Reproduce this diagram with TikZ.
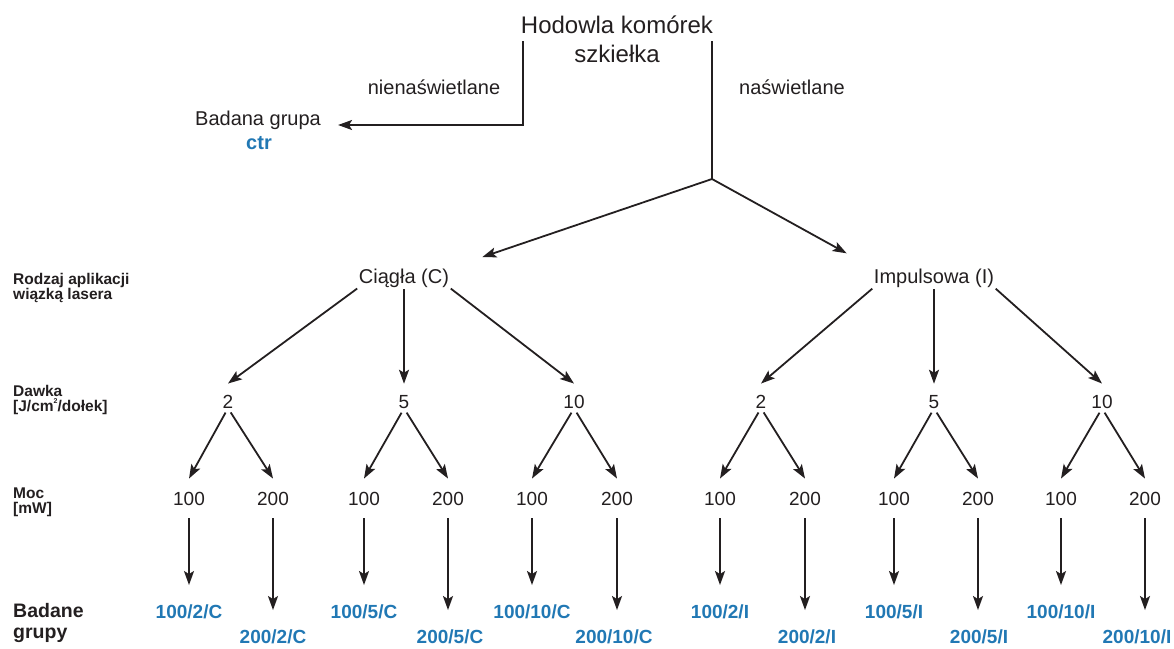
\documentclass[tikz,border=0pt]{standalone}
\usepackage{fontspec}
\setmainfont{Liberation Sans}
\usetikzlibrary{arrows.meta,calc}
\definecolor{txt}{RGB}{35,31,32}
\definecolor{grp}{RGB}{33,120,180}
\begin{document}
\begin{tikzpicture}[x=1pt,y=-1pt,
  lbl/.style={inner sep=0pt,anchor=base,text=txt},
  big/.style={lbl,font=\fontsize{24}{29}\selectfont},
  mid/.style={lbl,font=\fontsize{20}{24}\selectfont},
  num/.style={lbl,font=\fontsize{19}{23}\selectfont},
  side/.style={inner sep=0pt,anchor=base west,text=txt,font=\bfseries\fontsize{15.5}{18}\selectfont},
  sidebig/.style={inner sep=0pt,anchor=base west,text=txt,font=\bfseries\fontsize{19.5}{23}\selectfont},
  res/.style={inner sep=0pt,anchor=base,text=grp,font=\bfseries\fontsize{19}{23}\selectfont},
  conn/.style={draw=txt,line width=1.8pt},
  arr/.style={conn,-{Stealth[length=14pt,width=10pt,inset=3pt]}},
]
\useasboundingbox (0,0) rectangle (1174,648);

% top
\node[big] (hod1) at (617,33) {Hodowla komórek};
\node[big] (hod2) at (617,62) {szkiełka};
\node[mid] (nien) at (434,94) {nienaświetlane};
\node[mid] (nasw) at (792,94) {naświetlane};
\node[mid] (bg) at (258,125) {Badana grupa};
\node[res,font=\bfseries\fontsize{20}{24}\selectfont] (ctr) at (259,149) {ctr};

\coordinate (hodL) at (523,41);
\coordinate (hodR) at (712,41);
\coordinate (J) at (712,179);
\draw[arr] (hodL) |- ([xshift=17pt]bg.base east);
\draw[conn] (hodR) -- (J);

% application type
\node[mid] (cc) at (404,283) {Ciągła (C)};
\node[mid] (ii) at (934,283) {Impulsowa (I)};
\draw[arr,shorten >=35pt] (J) -- (cc.north east);
\draw[arr,shorten >=31pt] (J) -- (ii.north west);

% doses, powers, groups
\foreach \k/\d/\x/\a/\b/\bx/\t in {c2/2/228/189/273/273/C, c5/5/404/364/448/450/C, c10/10/574/532/617/614/C, i2/2/761/720/805/807/I, i5/5/934/894/978/979/I, i10/10/1102/1061/1145/1137/I}{
  \node[num] (d\k) at (\x,408) {\d};
  \node[num] (pa\k) at (\a,505) {100};
  \node[num] (pb\k) at (\b,505) {200};
  \node[res] (ra\k) at (\a,618) {100/\d/\t};
  \node[res] (rb\k) at (\bx,643) {200/\d/\t};
  \draw[arr,shorten <=5pt] (d\k.south) -- ([yshift=13pt]pa\k.north);
  \draw[arr,shorten <=5pt] (d\k.south) -- ([yshift=13pt]pb\k.north);
  \draw[arr,shorten <=13pt,shorten >=19pt] (pa\k.south) -- (pa\k.south |- ra\k.north);
  \draw[arr,shorten <=13pt,shorten >=19pt] (pb\k.south) -- (pb\k.south |- rb\k.north);
}

\draw[arr,shorten <=2pt] (cc.south west) -- ([yshift=11pt]dc2.north);
\draw[arr,shorten <=2pt] (cc.south) -- ([yshift=11pt]dc5.north);
\draw[arr,shorten <=2pt] (cc.south east) -- ([yshift=11pt]dc10.north);
\draw[arr,shorten <=2pt] (ii.south west) -- ([yshift=11pt]di2.north);
\draw[arr,shorten <=2pt] (ii.south) -- ([yshift=11pt]di5.north);
\draw[arr,shorten <=2pt] (ii.south east) -- ([yshift=11pt]di10.north);

% side labels
\node[side] (r1) at (13,284) {Rodzaj aplikacji};
\node[side] (r2) at (13,299) {wiązką lasera};
\node[side] (dw1) at (13,396) {Dawka};
\node[side] (dw2) at (13,411) {[J/cm\raisebox{0.9ex}{\fontsize{7}{8}\selectfont 2}/dołek]};
\node[side] (m1) at (13,498) {Moc};
\node[side] (m2) at (13,513) {[mW]};
\node[sidebig] (b1) at (13,617) {Badane};
\node[sidebig] (b2) at (13,638) {grupy};
\end{tikzpicture}
\end{document}
